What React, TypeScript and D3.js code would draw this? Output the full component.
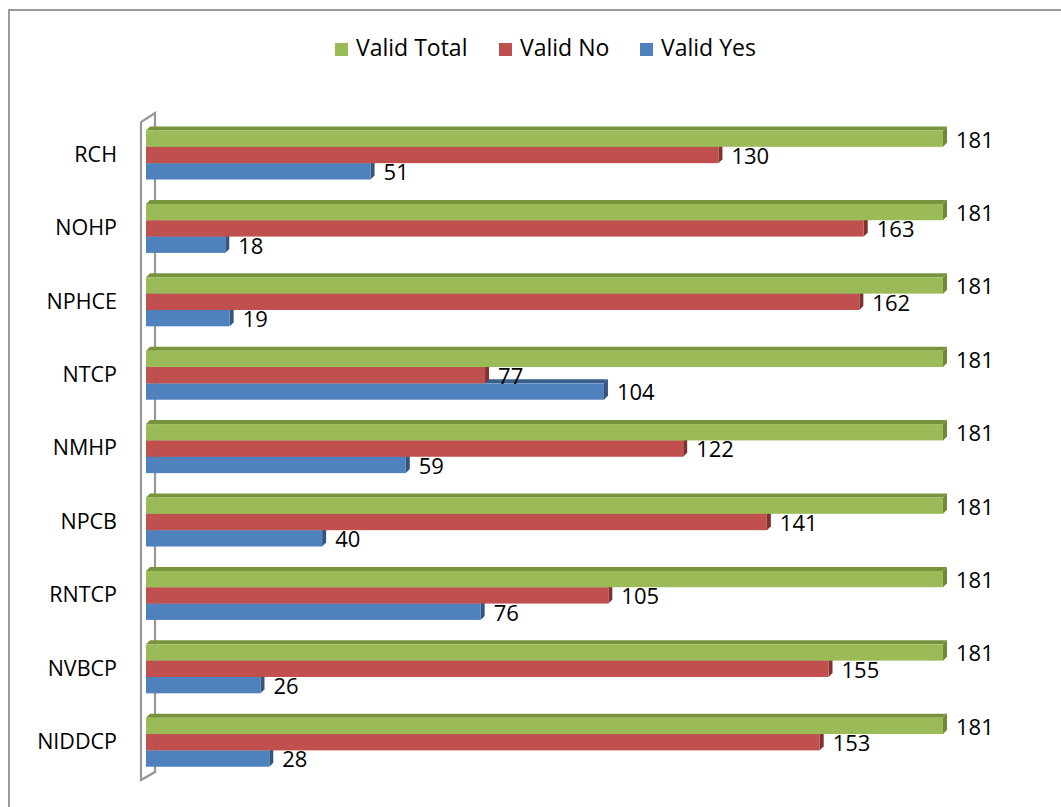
import React from "react";
import * as d3 from "d3";

// Programme names, top to bottom
const categories = ["RCH", "NOHP", "NPHCE", "NTCP", "NMHP", "NPCB", "RNTCP", "NVBCP", "NIDDCP"];
const seriesNames = ["Valid Total", "Valid No", "Valid Yes"];
const validTotal = [181, 181, 181, 181, 181, 181, 181, 181, 181];
const validNo = [130, 163, 162, 77, 122, 141, 105, 155, 153];
const validYes = [51, 18, 19, 104, 59, 40, 76, 26, 28];

const seriesValues = [validTotal, validNo, validYes];
const frontColors = ["#9BBB59", "#C0504D", "#4F81BD"];
const topColors = ["#77933C", "#8C3A38", "#3A5F8C"];
const sideColors = ["#6E8A36", "#7E3331", "#34557E"];

const W = 1061;
const H = 807;
const FONT = "'Open Sans', 'Noto Sans', sans-serif";
const DEPTH = 4;

export default function App() {
  const x = d3.scaleLinear().domain([0, 181]).range([146, 943]);
  const y = d3.scaleBand<string>().domain(categories).range([118.3, 778.9]).paddingInner(0.332).paddingOuter(0.166);
  const inner = d3.scaleBand<string>().domain(seriesNames).range([0, y.bandwidth()]);

  const bars: React.ReactNode[] = [];
  const labels: React.ReactNode[] = [];
  categories.forEach((cat, ci) => {
    // draw bottom series first so upper bars cover lower top faces
    for (let si = seriesNames.length - 1; si >= 0; si--) {
      const v = seriesValues[si][ci];
      const x0 = x(0);
      const x1 = x(v);
      const y0 = (y(cat) as number) + (inner(seriesNames[si]) as number);
      const h = inner.bandwidth();
      bars.push(
        <g key={`${cat}-${si}`}>
          <polygon
            points={`${x0},${y0} ${x0 + DEPTH},${y0 - DEPTH} ${x1 + DEPTH},${y0 - DEPTH} ${x1},${y0}`}
            fill={topColors[si]}
          />
          <polygon
            points={`${x1},${y0} ${x1 + DEPTH},${y0 - DEPTH} ${x1 + DEPTH},${y0 + h - DEPTH} ${x1},${y0 + h}`}
            fill={sideColors[si]}
          />
          <rect x={x0} y={y0} width={x1 - x0} height={h} fill={frontColors[si]} />
        </g>
      );
      labels.push(
        <text
          key={`l-${cat}-${si}`}
          x={x1 + 13}
          y={y0 + h / 2 + 3}
          dominantBaseline="middle"
          fontSize={22}
          fontFamily={FONT}
          fill="#000"
        >
          {v}
        </text>
      );
    }
  });

  const legendItems = [
    { name: "Valid Total", x: 335, color: frontColors[0] },
    { name: "Valid No", x: 499, color: frontColors[1] },
    { name: "Valid Yes", x: 640, color: frontColors[2] },
  ];

  return (
    <svg width={W} height={H} style={{ position: "absolute", left: 0, top: 0, display: "block", background: "#fff" }}>
      <rect x={9} y={10} width={W + 10} height={H + 10} fill="none" stroke="#9a9a9a" strokeWidth={2} />

      {/* side wall */}
      <path d="M141,780 L141,122 L155,113 L155,772 Z" fill="none" stroke="#969696" strokeWidth={2.2} />

      {bars}
      {labels}

      {categories.map((cat) => (
        <text
          key={cat}
          x={117}
          y={(y(cat) as number) + y.bandwidth() / 2 + 1}
          textAnchor="end"
          dominantBaseline="middle"
          fontSize={21.5}
          fontFamily={FONT}
          fill="#000"
        >
          {cat}
        </text>
      ))}

      {legendItems.map((d) => (
        <g key={d.name}>
          <rect x={d.x} y={43} width={13} height={13} fill={d.color} />
          <text x={d.x + 21} y={50} dominantBaseline="middle" fontSize={23} fontFamily={FONT} fill="#000">
            {d.name}
          </text>
        </g>
      ))}
    </svg>
  );
}
